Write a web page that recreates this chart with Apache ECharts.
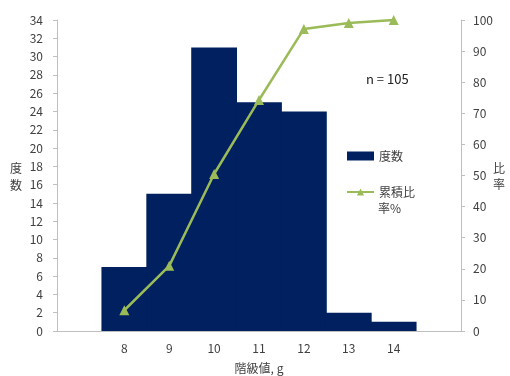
<!DOCTYPE html>
<html>
<head>
<meta charset="utf-8">
<script src="https://cdn.jsdelivr.net/npm/echarts@6/dist/echarts.min.js"></script>
<style>
  html, body { margin: 0; padding: 0; background: #fff; }
  #chart { width: 510px; height: 376px; }
</style>
</head>
<body>
<div id="chart"></div>
<script>
// Class values (g) and the number of items in each class
const classValues = ['8', '9', '10', '11', '12', '13', '14'];
const frequency = [7, 15, 31, 25, 24, 2, 1];
// Cumulative share of the 105 items, in percent
const cumulativePct = [6.67, 20.95, 50.48, 74.29, 97.14, 99.05, 100];
const freqTicks = { min: 0, max: 34, interval: 2 };
const pctTicks = { min: 0, max: 100, interval: 10 };

// One empty slot on each side of the classes leaves room at the ends of the axis
const categories = [''].concat(classValues, ['']);
const pad = arr => [null].concat(arr, [null]);

const FONT = '"Noto Sans CJK JP", "Noto Sans", sans-serif';
const AXIS_GRAY = '#bfbfbf';
const TEXT = '#404040';
const NAVY = '#002060';
const GREEN = '#9bbb59';

const chart = echarts.init(document.getElementById('chart'), null, { renderer: 'canvas' });
chart.setOption({
  animation: false,
  textStyle: { fontFamily: FONT },
  grid: { left: 57, right: 49, top: 20, bottom: 45, containLabel: false, outerBoundsMode: 'none' },
  xAxis: {
    type: 'category',
    data: categories,
    z: 5,
    axisLine: { lineStyle: { color: AXIS_GRAY } },
    axisTick: { inside: true, length: 4, lineStyle: { color: '#d0d0d0' } },
    axisLabel: { color: TEXT, fontSize: 12, margin: 11, fontFamily: FONT },
    name: '階級値, g',
    nameLocation: 'middle',
    nameGap: 31,
    nameTextStyle: { color: TEXT, fontSize: 12, fontFamily: FONT }
  },
  yAxis: [
    {
      type: 'value',
      min: freqTicks.min, max: freqTicks.max, interval: freqTicks.interval,
      axisLine: { show: true, lineStyle: { color: AXIS_GRAY } },
      axisTick: { show: true, length: 4, lineStyle: { color: AXIS_GRAY } },
      splitLine: { show: false },
      axisLabel: { color: TEXT, fontSize: 12, margin: 14 }
    },
    {
      type: 'value',
      min: pctTicks.min, max: pctTicks.max, interval: pctTicks.interval,
      position: 'right',
      axisLine: { show: true, lineStyle: { color: AXIS_GRAY } },
      axisTick: { show: true, length: 4, lineStyle: { color: AXIS_GRAY } },
      splitLine: { show: false },
      axisLabel: { color: TEXT, fontSize: 12, margin: 12 }
    }
  ],
  legend: {
    orient: 'vertical',
    left: 346,
    top: 149,
    padding: 0,
    itemWidth: 27,
    itemHeight: 9,
    itemGap: 22,
    textStyle: { color: TEXT, fontSize: 12, fontFamily: FONT, lineHeight: 14 },
    formatter: name => name === '累積比率%' ? '累積比' : name,
    data: [
      { name: '度数', icon: 'rect' },
      { name: '累積比率%' }
    ]
  },
  graphic: [
    {
      // second line of the cumulative-share legend entry
      type: 'text',
      left: 378, top: 202,
      style: { text: '率%', fill: TEXT, font: '12px ' + FONT }
    },
    {
      type: 'text',
      left: 366, top: 73,
      style: { text: 'n = 105', fill: '#222', font: '13px ' + FONT }
    },
    {
      type: 'text',
      left: 10, top: 160,
      style: { text: '度\n数', fill: TEXT, font: '12px ' + FONT, lineHeight: 17 }
    },
    {
      type: 'text',
      left: 493, top: 160,
      style: { text: '比\n率', fill: TEXT, font: '12px ' + FONT, lineHeight: 16 }
    }
  ],
  series: [
    {
      name: '度数',
      type: 'bar',
      yAxisIndex: 0,
      data: pad(frequency),
      barWidth: '102%',
      barGap: '0%',
      itemStyle: { color: NAVY }
    },
    {
      name: '累積比率%',
      type: 'line',
      yAxisIndex: 1,
      data: pad(cumulativePct),
      connectNulls: false,
      symbol: 'triangle',
      symbolSize: 10,
      z: 10,
      lineStyle: { color: GREEN, width: 2.5 },
      itemStyle: { color: GREEN }
    }
  ]
});
</script>
</body>
</html>
